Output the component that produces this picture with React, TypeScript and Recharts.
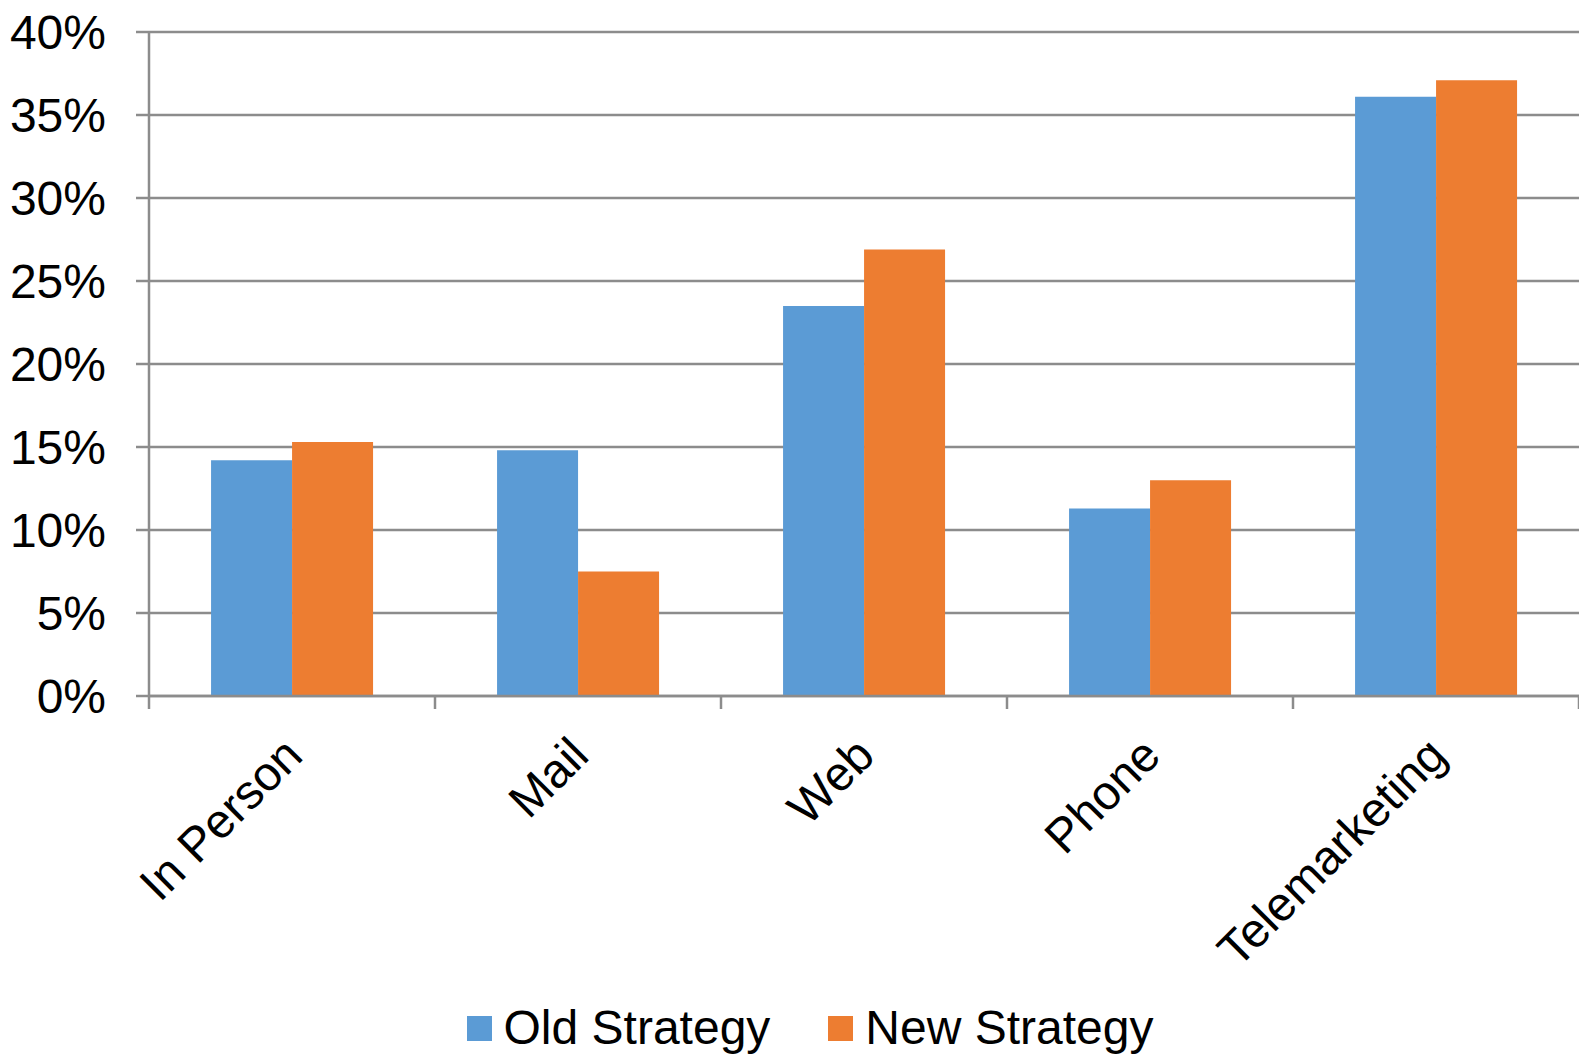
import React from "react";
import { BarChart, Bar, XAxis, YAxis, CartesianGrid, Legend } from "recharts";

const categories = ["In Person", "Mail", "Web", "Phone", "Telemarketing"];
const oldStrategy = [0.142, 0.148, 0.235, 0.113, 0.361];
const newStrategy = [0.153, 0.075, 0.269, 0.130, 0.371];
const yTicks = [0, 0.05, 0.1, 0.15, 0.2, 0.25, 0.3, 0.35, 0.4];
const seriesNames = ["Old Strategy", "New Strategy"];
const colors = ["#5B9BD5", "#ED7D31"];

const data = categories.map((c, i) => ({ name: c, old: oldStrategy[i], neu: newStrategy[i] }));

const FONT = "'Liberation Sans', Arial, sans-serif";
const GRID = "#8c8c8c";
const FS = 48;

const XTick = (props: any) => {
  const { x, y, payload, index } = props;
  const off = payload?.offset ?? 0;
  const last = index === categories.length - 1;
  const ax = x + 13;
  const ay = y + 62;
  return (
    <g>
      <line x1={x - off} x2={x - off} y1={y} y2={y + 13} stroke={GRID} strokeWidth={2.5} />
      {last && <line x1={x + off} x2={x + off} y1={y} y2={y + 13} stroke={GRID} strokeWidth={2.5} />}
      <text
        x={ax}
        y={ay}
        textAnchor="end"
        transform={`rotate(-45, ${ax}, ${ay})`}
        fontFamily={FONT}
        fontSize={FS}
        fill="#000"
      >
        {payload.value}
      </text>
    </g>
  );
};

const LegendContent = () => (
  <div style={{ display: "flex", justifyContent: "center", alignItems: "center", paddingLeft: 41, paddingTop: 8, fontFamily: FONT, fontSize: FS, color: "#000" }}>
    {seriesNames.map((n, i) => (
      <div key={n} style={{ display: "flex", alignItems: "center", marginRight: i === 0 ? 58 : 0 }}>
        <span style={{ display: "inline-block", width: 25, height: 25, background: colors[i], marginRight: 12 }} />
        <span style={{ lineHeight: `${FS}px` }}>{n}</span>
      </div>
    ))}
  </div>
);

export default function App() {
  return (
    <div style={{ position: "absolute", left: 0, top: 0, background: "#fff" }}>
      <BarChart
        width={1579}
        height={1054}
        data={data}
        margin={{ top: 32, right: 0, bottom: 0, left: 0 }}
        barCategoryGap="21.7%"
        barGap={0}
      >
        <CartesianGrid vertical={false} stroke={GRID} strokeWidth={2.5} />
        <XAxis
          dataKey="name"
          interval={0}
          height={300}
          tickLine={false}
          tickSize={0}
          tickMargin={0}
          axisLine={{ stroke: GRID, strokeWidth: 2.5 }}
          tick={<XTick />}
        />
        <YAxis
          width={149}
          domain={[0, 0.4]}
          ticks={yTicks}
          interval={0}
          tickSize={13}
          tickMargin={30}
          tickLine={{ stroke: GRID, strokeWidth: 2.5 }}
          axisLine={{ stroke: GRID, strokeWidth: 2.5 }}
          tickFormatter={(v: number) => `${Math.round(v * 100)}%`}
          tick={{ fontFamily: FONT, fontSize: FS, fill: "#000" }}
        />
        <Legend verticalAlign="bottom" height={58} content={<LegendContent />} />
        <Bar dataKey="old" name={seriesNames[0]} fill={colors[0]} isAnimationActive={false} />
        <Bar dataKey="neu" name={seriesNames[1]} fill={colors[1]} isAnimationActive={false} />
      </BarChart>
    </div>
  );
}
